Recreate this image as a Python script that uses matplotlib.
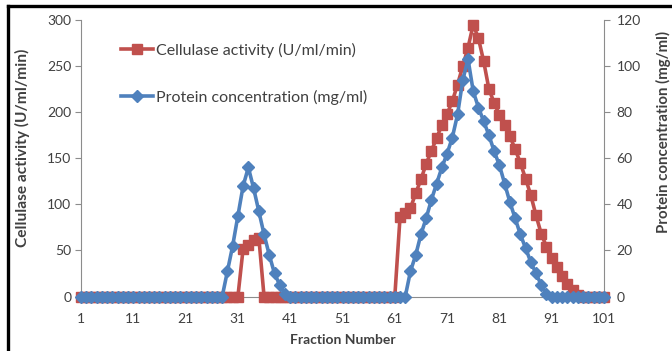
import numpy as np
import matplotlib
matplotlib.use("Agg")
import matplotlib.pyplot as plt
from matplotlib.lines import Line2D

plt.rcParams['font.family'] = ['Lato', 'DejaVu Sans']

# Fraction numbers collected from the column
fractions = np.arange(1, 102)
x_tick_labels = [1, 11, 21, 31, 41, 51, 61, 71, 81, 91, 101]

# Cellulase activity (U/ml/min): non-zero stretches, zero elsewhere
cellulase_peak1_start = 32
cellulase_peak1 = [52, 56, 61, 64]
cellulase_peak2_start = 62
cellulase_peak2 = [86, 91, 96, 112, 127, 144, 158, 172, 186, 198, 212, 230, 250, 270, 295,
                   280, 255, 225, 210, 197, 186, 174, 160, 145, 128, 110, 88, 68, 54,
                   42, 32, 22, 14, 7, 2]

# Protein concentration (mg/ml): non-zero stretches, zero elsewhere
protein_peak1_start = 29
protein_peak1 = [11, 22, 35, 48, 56, 47, 37, 27, 18, 10, 5, 1]
protein_peak2_start = 64
protein_peak2 = [11, 18, 27, 34, 42, 49, 56, 62, 69, 79, 94, 103, 89, 82, 76, 70, 63, 57,
                 49, 41, 34, 27, 21, 15, 10, 5, 1]


def build_profile(segments):
    values = np.zeros(len(fractions))
    for start, seg in segments:
        values[start - 1:start - 1 + len(seg)] = seg
    return values


cellulase = build_profile([(cellulase_peak1_start, cellulase_peak1),
                           (cellulase_peak2_start, cellulase_peak2)])
protein = build_profile([(protein_peak1_start, protein_peak1),
                         (protein_peak2_start, protein_peak2)])

RED = '#C0504D'
BLUE = '#4F81BD'
AXIS_GREY = '#8C8C8C'
TEXT = '#404040'

W, H = 672, 351
fig = plt.figure(figsize=(W / 100, H / 100), dpi=100)
ax = fig.add_axes([81 / W, 1 - 296.5 / H, (604 - 81) / W, (296.5 - 20) / H])
ax2 = ax.twinx()

l1, = ax.plot(fractions, cellulase, color=RED, lw=2.6, marker='s', ms=6.8,
              label='Cellulase activity (U/ml/min)', clip_on=False, zorder=3)
l2, = ax2.plot(fractions, protein, color=BLUE, lw=2.6, marker='D', ms=6.0,
               label='Protein concentration (mg/ml)', clip_on=False, zorder=3)

ax.set_xlim(1, 101)
ax.set_ylim(0, 300)
ax2.set_ylim(0, 120)
ax.set_yticks(np.arange(0, 301, 50))
ax2.set_yticks(np.arange(0, 121, 20))
ax.set_xticks(x_tick_labels)
ax.set_xticklabels([str(v) for v in x_tick_labels])

for a in (ax, ax2):
    for s in a.spines.values():
        s.set_color(AXIS_GREY)
        s.set_linewidth(0.8)
    a.spines['top'].set_visible(False)
ax.spines['right'].set_visible(False)
ax2.spines['left'].set_visible(False)
ax2.spines['bottom'].set_visible(False)

ax.tick_params(axis='y', length=4, width=0.8, color=AXIS_GREY, labelsize=10,
               labelcolor=TEXT, pad=3)
ax2.tick_params(axis='y', length=4, width=0.8, color=AXIS_GREY, labelsize=10,
                labelcolor=TEXT, pad=5)
ax.tick_params(axis='x', length=0, labelsize=10, labelcolor=TEXT, pad=12)

# Axis titles
fig.text(22 / W, 1 - 148 / H, 'Cellulase activity (U/ml/min)', rotation=90,
         ha='center', va='center', fontsize=11.2, fontweight='bold', color=TEXT)
fig.text(663 / W, 1 - 132 / H, 'Protein concentration (mg/ml)', rotation=90,
         ha='center', va='center', fontsize=10.8, fontweight='bold', color=TEXT)
fig.text(343 / W, 1 - 340 / H, 'Fraction Number', ha='center', va='center',
         fontsize=10, fontweight='bold', color=TEXT)

ax.set_zorder(1)
ax2.set_zorder(2)
ax.patch.set_visible(False)
ax2.patch.set_visible(False)

fig.legend(handles=[l1, l2], loc='upper left', bbox_to_anchor=(113 / W, 1 - 35 / H),
           frameon=False, fontsize=11.5, borderpad=0, labelspacing=2.0,
           handlelength=2.0, handletextpad=0.2, labelcolor=TEXT)

# Black frame along the top and left edges of the figure
fig.add_artist(Line2D([8 / W, 1], [1 - 6 / H, 1 - 6 / H], transform=fig.transFigure,
                      color='black', lw=2.4))
fig.add_artist(Line2D([8 / W, 8 / W], [0, 1 - 6 / H], transform=fig.transFigure,
                      color='black', lw=2.4))

fig.savefig('out.png', dpi=100)
